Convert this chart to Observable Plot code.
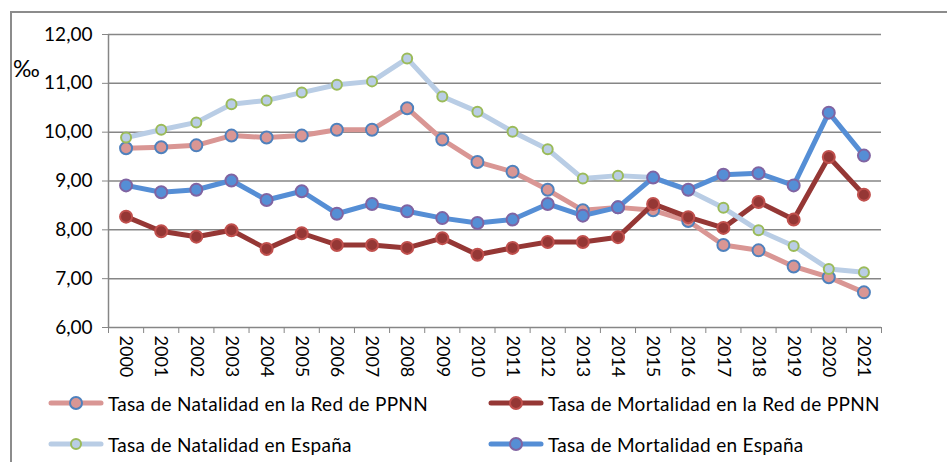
<!DOCTYPE html>
<html><head><meta charset="utf-8">
<script src="https://cdn.jsdelivr.net/npm/d3@7"></script>
<script src="https://cdn.jsdelivr.net/npm/@observablehq/plot@0.6"></script>
<style>
body{margin:0;background:#fff;font-family:Lato,"Open Sans",sans-serif;}
#wrap{position:relative;width:947px;height:462px;overflow:hidden;background:#fff;}
#frame{position:absolute;left:10px;top:11px;width:960px;height:470px;border-left:2px solid #8c8c8c;border-top:2px solid #8c8c8c;box-sizing:border-box;}
#chart{position:absolute;left:0;top:0;}
#unit{position:absolute;left:13px;top:54px;font-size:23px;color:#000;}
.leg{position:absolute;display:flex;align-items:center;font-size:19px;letter-spacing:0.3px;color:#000;white-space:nowrap;}
.leg svg{margin-right:4px;}
</style></head>
<body>
<div id="wrap">
  <div id="frame"></div>
  <div id="chart"></div>
  <div id="unit">‰</div>
  <div id="legend"></div>
</div>
<script>
const years = [2000,2001,2002,2003,2004,2005,2006,2007,2008,2009,2010,2011,2012,2013,2014,2015,2016,2017,2018,2019,2020,2021];
const natalidadRed = [9.67,9.69,9.73,9.93,9.89,9.93,10.05,10.05,10.49,9.85,9.39,9.19,8.82,8.40,8.46,8.40,8.18,7.69,7.58,7.25,7.03,6.72];
const mortalidadRed = [8.27,7.97,7.86,7.99,7.61,7.93,7.69,7.69,7.63,7.83,7.49,7.63,7.75,7.75,7.85,8.53,8.26,8.04,8.57,8.21,9.49,8.72];
const natalidadEsp = [9.89,10.05,10.20,10.57,10.65,10.81,10.97,11.04,11.51,10.73,10.42,10.01,9.65,9.05,9.11,9.07,8.81,8.45,7.99,7.67,7.20,7.13];
const mortalidadEsp = [8.91,8.77,8.82,9.01,8.61,8.79,8.33,8.53,8.38,8.24,8.14,8.21,8.53,8.29,8.46,9.07,8.82,9.13,9.16,8.91,10.40,9.52];
const yTicks = [6,7,8,9,10,11,12];

const series = [
  {name:"Tasa de Natalidad en la Red de PPNN", values:natalidadRed, line:"#d99694", fill:"#d99694", stroke:"#4f81bd", r:6},
  {name:"Tasa de Mortalidad en la Red de PPNN", values:mortalidadRed, line:"#953735", fill:"#953735", stroke:"#c0504d", r:6},
  {name:"Tasa de Natalidad en España", values:natalidadEsp, line:"#b9cde5", fill:"#b9cde5", stroke:"#9bbb59", r:5},
  {name:"Tasa de Mortalidad en España", values:mortalidadEsp, line:"#558ed5", fill:"#558ed5", stroke:"#8064a2", r:6}
];

const bounds = [years[0]-0.5, ...years.map(y => y+0.5)];
const rows = s => years.map((y,i) => ({year:y, value:s.values[i]}));

const marks = [
  Plot.gridY(yTicks, {stroke:"#868686", strokeOpacity:1, strokeWidth:1.5}),
  Plot.ruleX([bounds[0]], {stroke:"#868686", strokeWidth:1.5}),
  Plot.axisY(yTicks, {tickSize:6, tickPadding:10, stroke:"#868686", tickFormat:d => d.toFixed(2).replace(".", ","), fontSize:19, fill:"#000"}),
  Plot.axisX(bounds, {tickSize:6, stroke:"#868686", tickFormat:() => ""}),
  Plot.axisX(years, {tickSize:0, tickPadding:8, tickRotate:90, tickFormat:d => String(d), fontSize:18, fill:"#000"})
];
for (const s of series) {
  marks.push(Plot.line(rows(s), {x:"year", y:"value", stroke:s.line, strokeWidth:5, strokeLinejoin:"round", strokeLinecap:"round"}));
  marks.push(Plot.dot(rows(s), {x:"year", y:"value", r:s.r, fill:s.fill, stroke:s.stroke, strokeWidth:2}));
}

const chart = Plot.plot({
  width:947, height:385,
  marginTop:34, marginBottom:58, marginLeft:108, marginRight:66,
  style:{fontFamily:"Lato, 'Open Sans', sans-serif", background:"transparent", overflow:"visible"},
  x:{type:"linear", domain:[bounds[0], bounds[bounds.length-1]], label:null, axis:null},
  y:{domain:[6,12], label:null, axis:null},
  marks
});
document.getElementById("chart").appendChild(chart);

const pos = [[48,403],[488,403],[48,444],[488,444]];
const legend = document.getElementById("legend");
series.forEach((s,i) => {
  const d = document.createElement("div");
  d.className = "leg";
  d.style.left = pos[i][0] + "px";
  d.style.top = (pos[i][1]-13) + "px";
  d.style.height = "26px";
  d.innerHTML = `<svg width="56" height="16"><line x1="3" y1="8" x2="53" y2="8" stroke="${s.line}" stroke-width="5" stroke-linecap="round"/><circle cx="28" cy="8" r="${s.r}" fill="${s.fill}" stroke="${s.stroke}" stroke-width="2"/></svg><span>${s.name}</span>`;
  legend.appendChild(d);
});
</script>
</body></html>
